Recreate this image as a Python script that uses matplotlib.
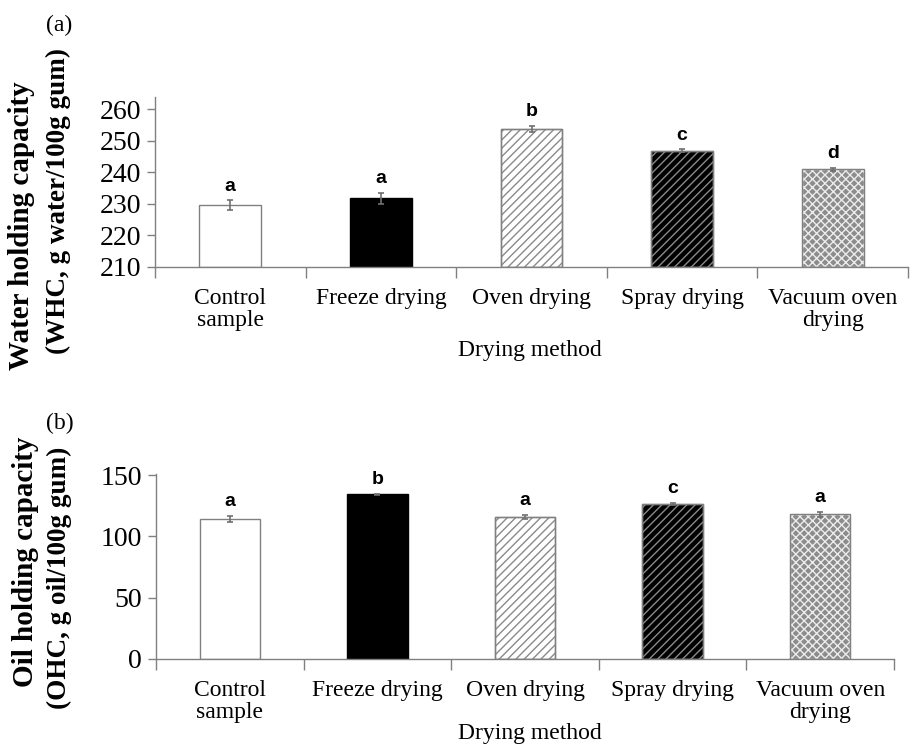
import matplotlib
matplotlib.use("Agg")
import matplotlib.pyplot as plt
import numpy as np

categories = ["Control\nsample", "Freeze drying", "Oven drying", "Spray drying", "Vacuum oven\ndrying"]
whc_values = [229.5, 231.7, 253.6, 246.8, 240.9]
whc_errors = [1.6, 1.8, 1.0, 0.4, 0.5]
whc_letters = ["a", "a", "b", "c", "d"]
ohc_values = [114.2, 134.3, 116.1, 126.3, 118.3]
ohc_errors = [2.5, 0.5, 1.5, 1.0, 2.0]
ohc_letters = ["a", "b", "a", "c", "a"]
whc_ticks = [210, 220, 230, 240, 250, 260]
ohc_ticks = [0, 50, 100, 150]

faces = ["white", "black", "white", "black", "#8c8c8c"]
hatches = [None, None, "////", "////", "xxxx"]
edges = ["#808080", "black", "#8a8a8a", "#8a8a8a", "#ececec"]

serif = ["Liberation Serif", "DejaVu Serif"]
W, H = 919, 747
fig = plt.figure(figsize=(W / 100, H / 100), dpi=100)

def px_axes(l, r, t, b):
    return fig.add_axes([l / W, 1 - b / H, (r - l) / W, (b - t) / H])

def draw(ax, vals, errs, letters, ticks, ylim):
    x = np.arange(len(vals))
    for i in range(len(vals)):
        ax.bar(x[i], vals[i] - ylim[0], bottom=ylim[0], width=0.41, color=faces[i],
               hatch=hatches[i], edgecolor=edges[i], linewidth=1.0, zorder=2)
        if hatches[i] is not None:
            ax.bar(x[i], vals[i] - ylim[0], bottom=ylim[0], width=0.41, fill=False,
                   edgecolor="#808080", linewidth=1.0, zorder=3)
    ax.errorbar(x, vals, yerr=errs, fmt="none", ecolor="#707070", elinewidth=1.2,
                capsize=2.5, capthick=1.2, zorder=4)
    for i in range(len(vals)):
        ax.annotate(letters[i], (x[i], vals[i] + errs[i]), xytext=(0, 7),
                    textcoords="offset points", ha="center", va="baseline",
                    fontsize=14, fontweight="bold", family=["Liberation Sans", "DejaVu Sans"])
    ax.set_xlim(-0.5, len(vals) - 0.5)
    ax.set_ylim(*ylim)
    ax.set_yticks(ticks)
    ax.set_yticklabels([str(t) for t in ticks], fontsize=20, family=serif)
    ax.set_xticks(x)
    ax.set_xticklabels(categories, fontsize=17, family=serif, linespacing=1.1)
    ax.set_xticks(np.arange(len(vals) + 1) - 0.5, minor=True)
    ax.tick_params(axis="x", which="major", length=0, pad=15)
    ax.tick_params(axis="x", which="minor", length=8, width=1, color="#808080")
    ax.tick_params(axis="y", length=6, width=1, color="#808080", pad=4)
    for s in ["top", "right"]:
        ax.spines[s].set_visible(False)
    for s in ["left", "bottom"]:
        ax.spines[s].set_color("#808080")
        ax.spines[s].set_linewidth(1.0)

ax1 = px_axes(155, 908, 97, 267)
draw(ax1, whc_values, whc_errors, whc_letters, whc_ticks, (210, 263.8))
ax2 = px_axes(156, 894, 474, 659)
draw(ax2, ohc_values, ohc_errors, ohc_letters, ohc_ticks, (0, 151))

fig.text(530 / W, 1 - 350 / H, "Drying method", ha="center", va="center", fontsize=17, family=serif)
fig.text(530 / W, 1 - 734 / H, "Drying method", ha="center", va="center", fontsize=17, family=serif)
fig.text(59 / W, 1 - 25 / H, "(a)", ha="center", va="center", fontsize=17, family=serif)
fig.text(60 / W, 1 - 423 / H, "(b)", ha="center", va="center", fontsize=17, family=serif)

def ylab(x, y, s, size):
    fig.text(x / W, 1 - y / H, s, rotation=90, ha="center", va="center",
             fontsize=size, fontweight="bold", family=serif)

ylab(22, 226, "Water holding capacity", 21)
ylab(58, 201, "(WHC, g water/100g gum)", 19.5)
ylab(26, 562, "Oil holding capacity", 21)
ylab(59, 578, "(OHC, g oil/100g gum)", 19.5)

fig.savefig("out.png", dpi=100)
